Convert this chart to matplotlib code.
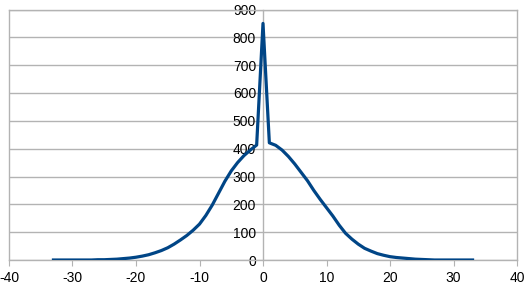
import matplotlib
matplotlib.use("Agg")
import matplotlib.pyplot as plt

plt.rcParams['font.family'] = ['Liberation Sans', 'DejaVu Sans']
plt.rcParams['axes.unicode_minus'] = False

# values
x_left = list(range(-33, 0))
y_left = [0, 0, 0, 0, 0, 0, 0, 1, 1, 2, 3, 5, 7, 10, 14, 19, 26, 34, 44, 57,
          72, 88, 107, 129, 160, 197, 240, 283, 320, 350, 375, 395, 413]
x_peak = [0]
y_peak = [850]
x_right = list(range(1, 34))
y_right = [421, 412, 395, 372, 345, 315, 285, 250, 218, 188, 158, 125, 96, 75,
           57, 42, 32, 23, 17, 12, 9, 7, 5, 3, 2, 1, 0, 0, 0, 0, 0, 0, 0]

xs = x_left + x_peak + x_right
ys = y_left + y_peak + y_right

grey = '#b3b3b3'

fig = plt.figure(figsize=(5.28, 2.89), dpi=100)
ax = fig.add_axes([9 / 528, 29 / 289, 508 / 528, 250.5 / 289])

ax.plot(xs, ys, color='#004586', linewidth=2.3, solid_joinstyle='round', zorder=3)

ax.set_xlim(-40, 40)
ax.set_ylim(0, 900)
ax.set_xticks(range(-40, 41, 10))
ax.set_yticks(range(0, 901, 100))
ax.yaxis.grid(True, color=grey, linewidth=1)
ax.set_axisbelow(True)

for s in ax.spines.values():
    s.set_color(grey)
    s.set_linewidth(1)
ax.spines['left'].set_position(('data', 0))
ax.axvline(-40, color=grey, linewidth=1, clip_on=False, zorder=1)

ax.tick_params(axis='x', direction='out', length=4, color=grey, labelsize=10, pad=4)
ax.tick_params(axis='y', length=0, labelsize=10, pad=5)

fig.savefig('out.png', dpi=100)
